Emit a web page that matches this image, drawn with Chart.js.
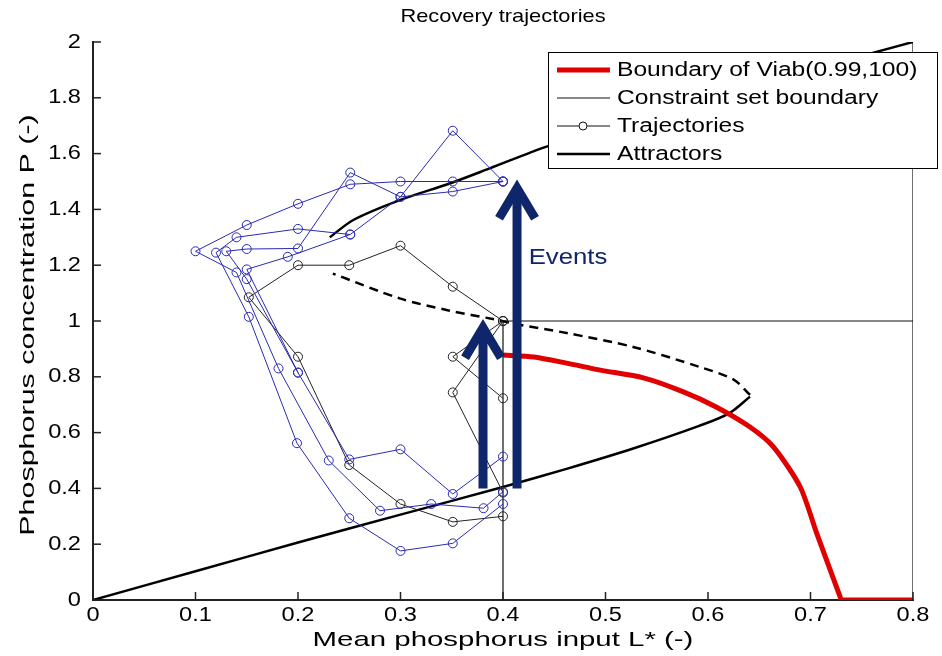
<!DOCTYPE html>
<html>
<head>
<meta charset="utf-8">
<script src="https://cdn.jsdelivr.net/npm/chart.js@4.4.0/dist/chart.umd.min.js"></script>
<style>
  html, body { margin: 0; padding: 0; background: #fff; }
  #wrap { width: 942px; height: 656px; }
</style>
</head>
<body>
<div id="wrap"><canvas id="myChart"></canvas></div>
<script>
// ---- data ----
const xTicks = [0, 0.1, 0.2, 0.3, 0.4, 0.5, 0.6, 0.7, 0.8];
const yTicks = [0, 0.2, 0.4, 0.6, 0.8, 1, 1.2, 1.4, 1.6, 1.8, 2];

// boundary of the viability kernel
const viabL = [0.40, 0.43, 0.462, 0.495, 0.537, 0.576, 0.608, 0.641, 0.664, 0.69, 0.706, 0.729, 0.73, 0.80];
const viabP = [0.878, 0.871, 0.849, 0.824, 0.796, 0.746, 0.692, 0.62, 0.548, 0.405, 0.24, 0.01, 0, 0];

// constraint set (L <= 0.4 or P <= 1, L <= 0.8)
const constraintL = [0.4, 0.4, 0.8, 0.8, 0.8];
const constraintP = [0, 1, 1, 0, 2];

// attractors: lower stable branch, unstable branch (dashed), upper stable branch
const lowL = [0, 0.1, 0.2, 0.3, 0.4, 0.462, 0.527, 0.592, 0.621, 0.641];
const lowP = [0, 0.103, 0.206, 0.306, 0.405, 0.47, 0.543, 0.625, 0.67, 0.729];
const unstableL = [0.641, 0.625, 0.592, 0.527, 0.462, 0.417, 0.39, 0.348, 0.30, 0.234];
const unstableP = [0.735, 0.79, 0.835, 0.907, 0.957, 0.986, 1.007, 1.037, 1.08, 1.17];
const highL = [0.231, 0.254, 0.30, 0.348, 0.387, 0.4425, 0.5, 0.6, 0.7, 0.8];
const highP = [1.30, 1.362, 1.434, 1.493, 1.547, 1.625, 1.69, 1.795, 1.9, 2.0];

// recovery trajectories (blue)
const trajB1L = [0.40, 0.351, 0.30, 0.251, 0.20, 0.15, 0.13, 0.15, 0.20, 0.25, 0.30, 0.351, 0.40];
const trajB1P = [1.50, 1.682, 1.445, 1.532, 1.26, 1.258, 1.25, 1.15, 0.815, 0.504, 0.54, 0.38, 0.514];
const trajB2L = [0.40, 0.351, 0.30, 0.251, 0.20, 0.14, 0.12, 0.152, 0.199, 0.25, 0.30, 0.351, 0.40];
const trajB2P = [1.50, 1.464, 1.445, 1.31, 1.33, 1.30, 1.245, 1.015, 0.562, 0.293, 0.176, 0.203, 0.344];
const trajB3L = [0.40, 0.351, 0.30, 0.251, 0.20, 0.15, 0.10, 0.14, 0.181, 0.23, 0.28, 0.33, 0.381, 0.40];
const trajB3P = [1.50, 1.50, 1.50, 1.49, 1.42, 1.344, 1.25, 1.174, 0.83, 0.50, 0.32, 0.344, 0.329, 0.388];
const trajB4L = [0.251, 0.19, 0.15, 0.20];
const trajB4P = [1.31, 1.23, 1.185, 0.815];

// recovery trajectories (black)
const trajK1L = [0.40, 0.351, 0.30, 0.25, 0.20, 0.152, 0.20, 0.25, 0.30, 0.351, 0.40];
const trajK1P = [1.00, 1.123, 1.27, 1.20, 1.20, 1.085, 0.872, 0.484, 0.344, 0.28, 0.30];
const trajK2L = [0.40, 0.351, 0.40];
const trajK2P = [1.00, 0.872, 0.723];
const trajK3L = [0.40, 0.351, 0.40];
const trajK3P = [1.00, 0.744, 0.385];

// disturbance events (vertical jumps in P)
const eventL = [0.3805, 0.4137];
const eventFromP = [0.40, 0.40];
const eventToP = [0.99, 1.49];
const eventLabel = 'Events';

const legendLabels = ['Boundary of Viab(0.99,100)', 'Constraint set boundary', 'Trajectories', 'Attractors'];

const BLUE = '#2a2ab4';
const NAVY = '#10266a';
const FONT = '"Liberation Sans", Arial, sans-serif';

function pts(xs, ys) {
  return xs.map((x, i) => ({ x: x, y: ys[i] }));
}

function curve(label, xs, ys, color, width, dash, tension) {
  return {
    label: label, data: pts(xs, ys), borderColor: color, borderWidth: width,
    borderDash: dash || [], pointRadius: 0, showLine: true, fill: false,
    tension: tension || 0
  };
}

function traj(xs, ys, color) {
  return {
    label: 'Trajectories', data: pts(xs, ys), borderColor: color, borderWidth: 1,
    pointRadius: 4.5, pointBorderColor: color, pointBackgroundColor: 'rgba(0,0,0,0)',
    pointBorderWidth: 1, showLine: true, fill: false, tension: 0
  };
}

// text with optional horizontal stretch
function text(ctx, str, x, y, size, align, sx, rot, color) {
  ctx.save();
  ctx.translate(x, y);
  if (rot) ctx.rotate(rot);
  ctx.scale(sx || 1, 1);
  ctx.font = size + 'px ' + FONT;
  ctx.fillStyle = color || '#000';
  ctx.textAlign = align || 'center';
  ctx.textBaseline = 'middle';
  ctx.fillText(str, 0, 0);
  ctx.restore();
}

const decorations = {
  id: 'decorations',
  afterDatasetsDraw(chart) {
    const ctx = chart.ctx;
    const xs = chart.scales.x, ys = chart.scales.y;
    // event arrows
    ctx.save();
    ctx.strokeStyle = NAVY;
    ctx.lineWidth = 9;
    eventL.forEach((l, i) => {
      const x = xs.getPixelForValue(l);
      const y0 = ys.getPixelForValue(eventFromP[i]);
      const y1 = ys.getPixelForValue(eventToP[i]);
      ctx.lineCap = 'butt';
      ctx.beginPath();
      ctx.moveTo(x, y0);
      ctx.lineTo(x, y1 + 6);
      ctx.stroke();
      ctx.lineJoin = 'miter';
      ctx.beginPath();
      ctx.moveTo(x - 18, y1 + 34);
      ctx.lineTo(x, y1 + 4);
      ctx.lineTo(x + 18, y1 + 34);
      ctx.stroke();
    });
    ctx.restore();
    text(ctx, eventLabel, xs.getPixelForValue(0.425), ys.getPixelForValue(1.226), 22, 'left', 1.17, 0, NAVY);
  },
  afterDraw(chart) {
    const ctx = chart.ctx;
    const xs = chart.scales.x, ys = chart.scales.y;
    const a = chart.chartArea;
    // inward tick marks and labels
    ctx.save();
    ctx.strokeStyle = '#222';
    ctx.lineWidth = 1.5;
    xs.ticks.forEach(t => {
      const px = xs.getPixelForValue(t.value);
      ctx.beginPath();
      ctx.moveTo(px, a.bottom);
      ctx.lineTo(px, a.bottom - 8);
      ctx.stroke();
      text(ctx, t.label, px, a.bottom + 15, 20, 'center', 1.18);
    });
    ys.ticks.forEach(t => {
      const py = ys.getPixelForValue(t.value);
      ctx.beginPath();
      ctx.moveTo(a.left, py);
      ctx.lineTo(a.left + 8, py);
      ctx.stroke();
      text(ctx, t.label, a.left - 12, py, 20, 'right', 1.18);
    });
    ctx.restore();

    // titles
    text(ctx, 'Recovery trajectories', (a.left + a.right) / 2, 17, 19, 'center', 1.15);
    text(ctx, 'Mean phosphorus input L* (-)', (a.left + a.right) / 2, 640, 21, 'center', 1.4);
    text(ctx, 'Phosphorus concentration P (-)', 28, (a.top + a.bottom) / 2 + 4, 21, 'center', 1.45, -Math.PI / 2);

    // legend box
    const lx = 548, ly = 52, lw = 389, lh = 116;
    ctx.save();
    ctx.fillStyle = '#fff';
    ctx.fillRect(lx, ly, lw, lh);
    ctx.strokeStyle = '#000';
    ctx.lineWidth = 1;
    ctx.strokeRect(lx + 0.5, ly + 0.5, lw, lh);
    const styles = [
      { color: '#e00000', width: 5, marker: false },
      { color: '#111', width: 1, marker: false },
      { color: '#111', width: 1, marker: true },
      { color: '#000', width: 2.5, marker: false }
    ];
    legendLabels.forEach((lab, i) => {
      const y = ly + 18 + i * 28;
      const s = styles[i];
      ctx.strokeStyle = s.color;
      ctx.lineWidth = s.width;
      ctx.beginPath();
      ctx.moveTo(lx + 9, y);
      ctx.lineTo(lx + 62, y);
      ctx.stroke();
      if (s.marker) {
        ctx.beginPath();
        ctx.arc(lx + 35, y, 4, 0, Math.PI * 2);
        ctx.fillStyle = '#fff';
        ctx.fill();
        ctx.stroke();
      }
      text(ctx, lab, lx + 69, y, 20, 'left', 1.23);
    });
    ctx.restore();
  }
};

const datasets = [
  curve('Boundary of Viab(0.99,100)', viabL, viabP, '#e00000', 5, null, 0.25),
  traj(trajB1L, trajB1P, BLUE),
  traj(trajB2L, trajB2P, BLUE),
  traj(trajB3L, trajB3P, BLUE),
  traj(trajB4L, trajB4P, BLUE),
  traj(trajK1L, trajK1P, '#222'),
  traj(trajK2L, trajK2P, '#222'),
  traj(trajK3L, trajK3P, '#222'),
  curve('Attractors', lowL, lowP, '#000', 2.5, null, 0.3),
  curve('Attractors', unstableL, unstableP, '#000', 2.5, [9, 6], 0.3),
  curve('Attractors', highL, highP, '#000', 2.5, null, 0.3),
  curve('Constraint set boundary', constraintL, constraintP, '#111', 1.2)
];

const ctx = document.getElementById('myChart').getContext('2d');
const myChart = new Chart(ctx, {
  type: 'scatter',
  data: { datasets: datasets },
  options: {
    responsive: true,
    maintainAspectRatio: false,
    animation: false,
    layout: { padding: { left: 0, top: 42, right: 29, bottom: 0 } },
    plugins: {
      legend: { display: false },
      tooltip: { enabled: false }
    },
    scales: {
      x: {
        type: 'linear', min: 0, max: 0.8,
        afterBuildTicks: s => { s.ticks = xTicks.map(v => ({ value: v })); },
        ticks: { display: false, callback: v => String(+v.toFixed(1)) },
        grid: { drawOnChartArea: false, drawTicks: false },
        border: { color: '#222', width: 2 },
        afterFit: s => { s.height = 56; }
      },
      y: {
        type: 'linear', min: 0, max: 2,
        afterBuildTicks: s => { s.ticks = yTicks.map(v => ({ value: v })); },
        ticks: { display: false, callback: v => String(+v.toFixed(1)) },
        grid: { drawOnChartArea: false, drawTicks: false },
        border: { color: '#222', width: 2 },
        afterFit: s => { s.width = 93; }
      }
    }
  },
  plugins: [decorations]
});
</script>
</body>
</html>
